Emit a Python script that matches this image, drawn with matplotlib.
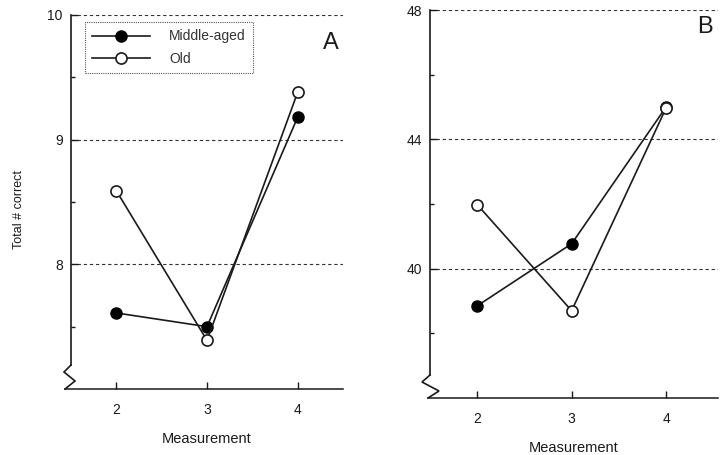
import matplotlib
matplotlib.use("Agg")
import matplotlib.pyplot as plt

plt.rcParams['font.family'] = ['Liberation Sans Narrow', 'Liberation Sans', 'DejaVu Sans']

# x = measurement occasion
measurements = [2, 3, 4]

# panel A
a_middle = [7.61, 7.50, 9.18]
a_old = [8.59, 7.39, 9.38]
a_yticks = [8, 9, 10]
a_minor = [7.5, 8.5, 9.5]

# panel B
b_middle = [38.85, 40.77, 45.0]
b_old = [41.98, 38.7, 44.97]
b_yticks = [40, 44, 48]
b_minor = [38, 42, 46]

INK = '#1a1a1a'


def zigzag(ax, pts, w, h):
    "Axis break drawn from pixel offsets relative to the axes origin"
    xs = [p[0] / w for p in pts]
    ys = [p[1] / h for p in pts]
    ax.plot(xs, ys, color=INK, lw=1.2, transform=ax.transAxes,
            clip_on=False, solid_joinstyle='miter')


def panel(ax, middle, old, ylim, yticks, yminor, xlim, letter, wpx, hpx,
          zz, letter_pos):
    ax.set_xlim(*xlim)
    ax.set_ylim(*ylim)
    for s in ('top', 'right', 'bottom'):
        ax.spines[s].set_visible(False)
    brk = ylim[0] + (ylim[1] - ylim[0]) * zz[0][1] / hpx
    ax.spines['left'].set_bounds(brk, ylim[1])
    ax.spines['left'].set_color(INK)
    ax.spines['left'].set_linewidth(1.2)
    zigzag(ax, zz, wpx, hpx)
    # x axis, starts at the foot of the break
    ax.plot([zz[-1][0] / wpx, 1], [0, 0], color=INK, lw=1.1,
            transform=ax.transAxes, clip_on=False)

    for v in yticks:
        if v != ylim[0]:
            ax.axhline(v, color='#333333', lw=0.8, ls=(0, (3, 2.5)), zorder=1)

    ax.set_yticks(yticks)
    ax.set_yticks(yminor, minor=True)
    ax.set_xticks(measurements)
    ax.tick_params(axis='y', which='major', direction='in', length=5,
                   width=1, labelsize=10, colors=INK, pad=6)
    ax.tick_params(axis='y', which='minor', direction='in', length=3,
                   width=1, colors=INK)
    ax.tick_params(axis='x', direction='in', length=5, width=1,
                   labelsize=10, colors=INK, pad=10)

    ax.plot(measurements, middle, color=INK, lw=1.2, marker='o', ms=8,
            mfc='black', mec='black', label='Middle-aged', zorder=3,
            clip_on=False)
    ax.plot(measurements, old, color=INK, lw=1.2, marker='o', ms=8,
            mfc='white', mec=INK, mew=1.2, label='Old', zorder=4,
            clip_on=False)

    ax.set_xlabel('Measurement', fontsize=10.5, color=INK, labelpad=11)
    ax.text(letter_pos[0], letter_pos[1], letter, transform=ax.transAxes,
            fontsize=17, color=INK, ha='center', va='center')


fig = plt.figure(figsize=(7.2, 4.55), dpi=100)
axA = fig.add_axes([71 / 720, 66 / 455, 272 / 720, 374 / 455])
axB = fig.add_axes([430 / 720, 57 / 455, 288 / 720, 388 / 455])

panel(axA, a_middle, a_old, (7, 10), a_yticks, a_minor, (1.5, 4.5), 'A',
      272, 374, [(0, 24), (-7, 17), (4, 8), (-6, 0)], (0.955, 0.925))
panel(axB, b_middle, b_old, (36, 48), b_yticks, b_minor, (1.5, 4.55), 'B',
      288, 388, [(0, 23), (-8, 16), (9, 7), (-2, 0)], (0.955, 0.955))

axA.set_ylabel('Total # correct', fontsize=9, color=INK)
axA.yaxis.set_label_coords(-0.17, 0.48)

leg = axA.legend(loc='upper left', bbox_to_anchor=(0.05, 0.98),
                 borderaxespad=0, fontsize=10, handlelength=4.2,
                 handletextpad=1.4, borderpad=0.5, labelspacing=0.6,
                 fancybox=False, framealpha=1)
leg.get_frame().set_edgecolor('#555555')
leg.get_frame().set_linestyle((0, (1, 1)))
leg.get_frame().set_linewidth(0.8)
for t in leg.get_texts():
    t.set_color('#333333')

fig.savefig('out.png', dpi=100)
